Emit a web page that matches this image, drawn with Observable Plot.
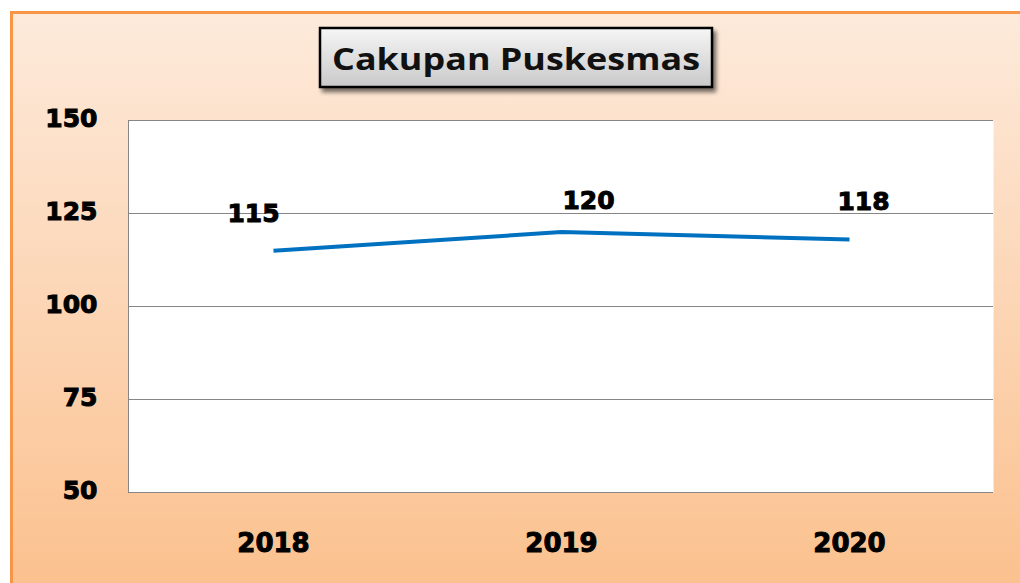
<!DOCTYPE html>
<html>
<head>
<meta charset="utf-8">
<script src="https://cdn.jsdelivr.net/npm/d3@7"></script>
<script src="https://cdn.jsdelivr.net/npm/@observablehq/plot@0.6"></script>
<style>
  html, body { margin: 0; padding: 0; width: 1020px; height: 583px; overflow: hidden; background: #fff; }
  #frame {
    position: absolute; left: 10px; top: 11px; width: 1030px; height: 600px;
    box-sizing: border-box; border: 3px solid #f79646;
    background: linear-gradient(to bottom, #fdeadb 0%, #fcd5b4 50%, #fbbf8b 100%);
  }
  #title { position: absolute; left: 0; top: 0; }
  #chart { position: absolute; left: 0; top: 100px; }
  #chart svg text { font-family: "DejaVu Sans", sans-serif; font-weight: bold; stroke: #000; stroke-width: 1px; paint-order: stroke; }
</style>
</head>
<body>
<div id="frame"></div>
<svg id="title" width="1020" height="110">
  <defs>
    <linearGradient id="tg" x1="0" y1="0" x2="0" y2="1">
      <stop offset="0" stop-color="#f6f6f6"/>
      <stop offset="1" stop-color="#c9c9c9"/>
    </linearGradient>
    <filter id="sh" x="-10%" y="-20%" width="130%" height="160%">
      <feGaussianBlur in="SourceAlpha" stdDeviation="2"/>
      <feOffset dx="3" dy="4" result="b"/>
      <feComponentTransfer><feFuncA type="linear" slope="0.55"/></feComponentTransfer>
      <feMerge><feMergeNode/><feMergeNode in="SourceGraphic"/></feMerge>
    </filter>
  </defs>
  <rect x="320" y="28" width="392" height="59" fill="url(#tg)" stroke="#000" stroke-width="2.5" filter="url(#sh)"/>
  <text id="titleText" x="332" y="70" font-family="'Open Sans', sans-serif" font-weight="bold" font-size="31" fill="#111" textLength="368" lengthAdjust="spacingAndGlyphs"></text>
</svg>
<div id="chart"></div>
<script>
const titleLabel = "Cakupan Puskesmas";
const years = ["2018", "2019", "2020"];
const values = [115, 120, 118];
const yTicks = [50, 75, 100, 125, 150];

document.getElementById("titleText").textContent = titleLabel;

const rows = years.map((year, i) => ({year, value: values[i]}));
// label nudges (style only)
const nudge = [{dx: -20, dy: -37}, {dx: 27, dy: -31}, {dx: 14, dy: -38}];

const chart = Plot.plot({
  width: 1020,
  height: 483,
  marginLeft: 128,
  marginRight: 27,
  marginTop: 20,
  marginBottom: 91,
  style: {background: "transparent", overflow: "visible"},
  x: {type: "point", domain: years, padding: 0.5, label: null},
  y: {domain: [50, 150], label: null},
  marks: [
    Plot.frame({fill: "white", stroke: null}),
    Plot.ruleY(yTicks, {stroke: "#868686", strokeWidth: 1}),
    Plot.frame({anchor: "left", stroke: "#868686"}),
    Plot.axisY({ticks: yTicks, tickSize: 0, tickPadding: 31, fontSize: 25, label: null, dy: -2}),
    Plot.axisX({tickSize: 0, tickPadding: 41, fontSize: 26, label: null}),
    Plot.line(rows, {x: "year", y: "value", stroke: "#0070c0", strokeWidth: 4, strokeLinecap: "butt", strokeLinejoin: "round"}),
    ...rows.map((r, i) => Plot.text([r], {x: "year", y: "value", text: d => String(d.value), fontSize: 25, fill: "#000", dx: nudge[i].dx, dy: nudge[i].dy}))
  ]
});
document.getElementById("chart").appendChild(chart);
</script>
</body>
</html>
